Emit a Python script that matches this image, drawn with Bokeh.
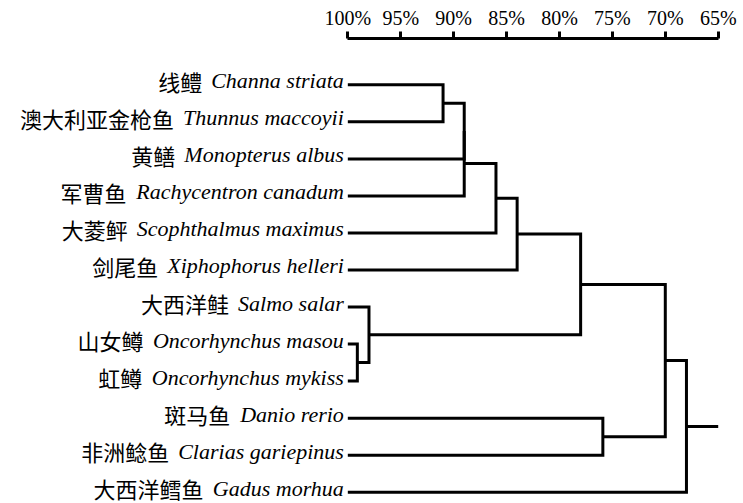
from bokeh.plotting import figure
from bokeh.models import Range1d, FixedTicker
from bokeh.core.properties import value
from bokeh.embed import file_html
from bokeh.resources import INLINE

# ---- data ----
cn_names = ["线鳢", "澳大利亚金枪鱼", "黄鳝", "军曹鱼", "大菱鲆", "剑尾鱼",
            "大西洋鲑", "山女鳟", "虹鳟", "斑马鱼", "非洲鲶鱼", "大西洋鳕鱼"]
latin_names = ["Channa striata", "Thunnus maccoyii", "Monopterus albus",
               "Rachycentron canadum", "Scophthalmus maximus", "Xiphophorus helleri",
               "Salmo salar", "Oncorhynchus masou", "Oncorhynchus mykiss",
               "Danio rerio", "Clarias gariepinus", "Gadus morhua"]
# merges: (child a, child b, similarity %) ; new nodes numbered from 12 upward
merges = [(0, 1, 91.0), (12, 2, 89.0), (13, 3, 89.0), (14, 4, 86.0),
          (15, 5, 84.0), (7, 8, 99.1), (6, 17, 98.0), (16, 18, 78.0),
          (9, 10, 75.9), (19, 20, 70.0), (21, 11, 68.0)]
leaf_similarity = 100.0
root_similarity = 65.0
tick_values = [100, 95, 90, 85, 80, 75, 70, 65]
tick_labels = ["100%", "95%", "90%", "85%", "80%", "75%", "70%", "65%"]

# ---- tree geometry ----
n = len(latin_names)
node_h = [leaf_similarity] * n
node_y = list(range(n))
xs, ys = [], []
for a, b, h in merges:
    xs.append([node_h[a], h, h, node_h[b]])
    ys.append([node_y[a], node_y[a], node_y[b], node_y[b]])
    node_h.append(h)
    node_y.append((node_y[a] + node_y[b]) / 2)
xs.append([node_h[-1], root_similarity])
ys.append([node_y[-1], node_y[-1]])

W, H = 743, 503
p = figure(width=W, height=H, output_backend="svg", toolbar_location=None,
           x_range=Range1d(132.82, 62.61), y_range=Range1d(11.304, -1.250),
           x_axis_location="above", y_axis_location=None,
           min_border_left=0, min_border_right=0, min_border_bottom=0,
           min_border_top=38)
p.background_fill_color = "white"
p.border_fill_color = "white"
p.outline_line_color = None
p.grid.visible = False

ax = p.xaxis[0]
ax.ticker = FixedTicker(ticks=tick_values)
ax.major_label_overrides = {v: lab for v, lab in zip(tick_values, tick_labels)}
ax.bounds = (min(tick_values), max(tick_values))
ax.axis_line_width = 3
ax.axis_line_color = "black"
ax.major_tick_line_width = 3
ax.major_tick_line_color = "black"
ax.major_tick_out = 7
ax.major_tick_in = 0
ax.minor_tick_line_color = None
ax.major_label_text_font = "Liberation Serif"
ax.major_label_text_font_size = "20px"
ax.major_label_text_color = "black"
ax.major_label_standoff = 3

p.multi_line(xs, ys, line_width=3, line_color="black", line_join="miter")

# label widths (Times/Liberation Serif italic advance widths, per 1000 em)
w_it = dict(a=500, b=500, c=444, d=500, e=444, f=278, g=500, h=500, i=278, j=278,
            k=444, l=278, m=722, n=500, o=500, p=500, q=500, r=389, s=389, t=278,
            u=500, v=444, w=667, x=444, y=444, z=389, C=667, D=722, G=722, M=833,
            O=722, R=611, S=500, T=556, X=611)
w_it[" "] = 250
lat_size = 22
gap = 9
pad = 4
cn_off = [-(pad + gap + sum(w_it.get(ch, 500) for ch in s) * lat_size / 1000.0)
          for s in latin_names]

p.text(x=[leaf_similarity] * n, y=list(range(n)), text=latin_names,
       text_font=value("Liberation Serif"), text_font_style="italic",
       text_font_size=f"{lat_size}px", text_align="right",
       text_baseline="alphabetic", x_offset=-pad, y_offset=-4, text_color="black")
p.text(x=[leaf_similarity] * n, y=list(range(n)), text=cn_names,
       text_font=value("Noto Sans CJK SC"), text_font_size="22px",
       text_align="right", text_baseline="alphabetic", x_offset=cn_off,
       y_offset=-4, text_color="black")

open("out.html", "w").write(file_html(p, INLINE))
